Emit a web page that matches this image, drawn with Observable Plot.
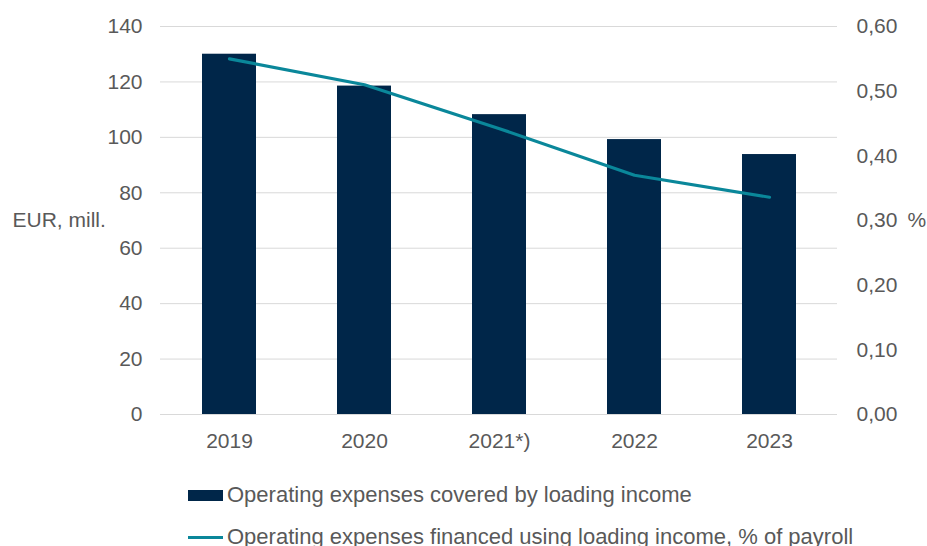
<!DOCTYPE html>
<html>
<head>
<meta charset="utf-8">
<script src="https://cdn.jsdelivr.net/npm/d3@7"></script>
<script src="https://cdn.jsdelivr.net/npm/@observablehq/plot@0.6"></script>
<style>
  body { margin: 0; background: #fff; font-family: "Liberation Sans", Arial, sans-serif; }
  #legend { margin-top: 9px; padding-left: 188px; color: #595959; font-size: 22px; }
  .row { display: flex; align-items: center; height: 42px; white-space: nowrap; }
  .sw { width: 35px; margin-right: 4px; flex: none; }
</style>
</head>
<body>
<div id="chart"></div>
<div id="legend"></div>
<script>
const years = ["2019", "2020", "2021*)", "2022", "2023"];
const expenses = [130, 118.5, 108.2, 99.2, 93.8];
const sharePayroll = [0.55, 0.51, 0.442, 0.37, 0.336];
const leftTicks = [0, 20, 40, 60, 80, 100, 120, 140];
const rightTicks = [0, 0.1, 0.2, 0.3, 0.4, 0.5, 0.6];
const seriesNames = ["Operating expenses covered by loading income",
                     "Operating expenses financed using loading income, % of payroll"];
const barColor = "#002649";
const lineColor = "#0A879A";
const textColor = "#595959";

const k = 140 / 0.6;
const data = years.map((y, i) => ({year: y, exp: expenses[i], share: sharePayroll[i] * k}));

const plot = Plot.plot({
  width: 927,
  height: 465,
  marginTop: 26,
  marginBottom: 51,
  marginLeft: 160,
  marginRight: 90,
  style: {fontFamily: "Liberation Sans, Arial, sans-serif", fontSize: "21px", color: textColor, background: "#fff"},
  x: {domain: years, paddingInner: 0.6, paddingOuter: 0.3, label: null},
  y: {domain: [0, 140], label: null},
  marks: [
    Plot.gridY(leftTicks, {stroke: "#d9d9d9", strokeOpacity: 1, strokeWidth: 1}),
    Plot.barY(data, {x: "year", y: "exp", fill: barColor}),
    Plot.line(data, {x: "year", y: "share", stroke: lineColor, strokeWidth: 3.2, strokeLinecap: "round"}),
    Plot.axisX({tickSize: 0, tickPadding: 19, fill: textColor, fontSize: 21, label: null}),
    Plot.axisY(leftTicks, {anchor: "left", tickSize: 0, tickPadding: 18, fill: textColor, fontSize: 21, label: null}),
    Plot.axisY(rightTicks.map(v => v * k), {anchor: "right", tickSize: 0, tickPadding: 19, fill: textColor, fontSize: 21, label: null,
      tickFormat: d => (d / k).toFixed(2).replace(".", ",")}),
    Plot.text(["EUR, mill."], {frameAnchor: "left", dx: -148, textAnchor: "start", fill: textColor, fontSize: 21}),
    Plot.text(["%"], {frameAnchor: "right", dx: 70, textAnchor: "start", fill: textColor, fontSize: 21})
  ]
});
document.getElementById("chart").appendChild(plot);

const legend = document.getElementById("legend");
legend.innerHTML = `
  <div class="row"><span class="sw" style="height:11px;background:${barColor}"></span><span>${seriesNames[0]}</span></div>
  <div class="row"><span class="sw" style="height:3px;background:${lineColor}"></span><span>${seriesNames[1]}</span></div>`;
</script>
</body>
</html>
